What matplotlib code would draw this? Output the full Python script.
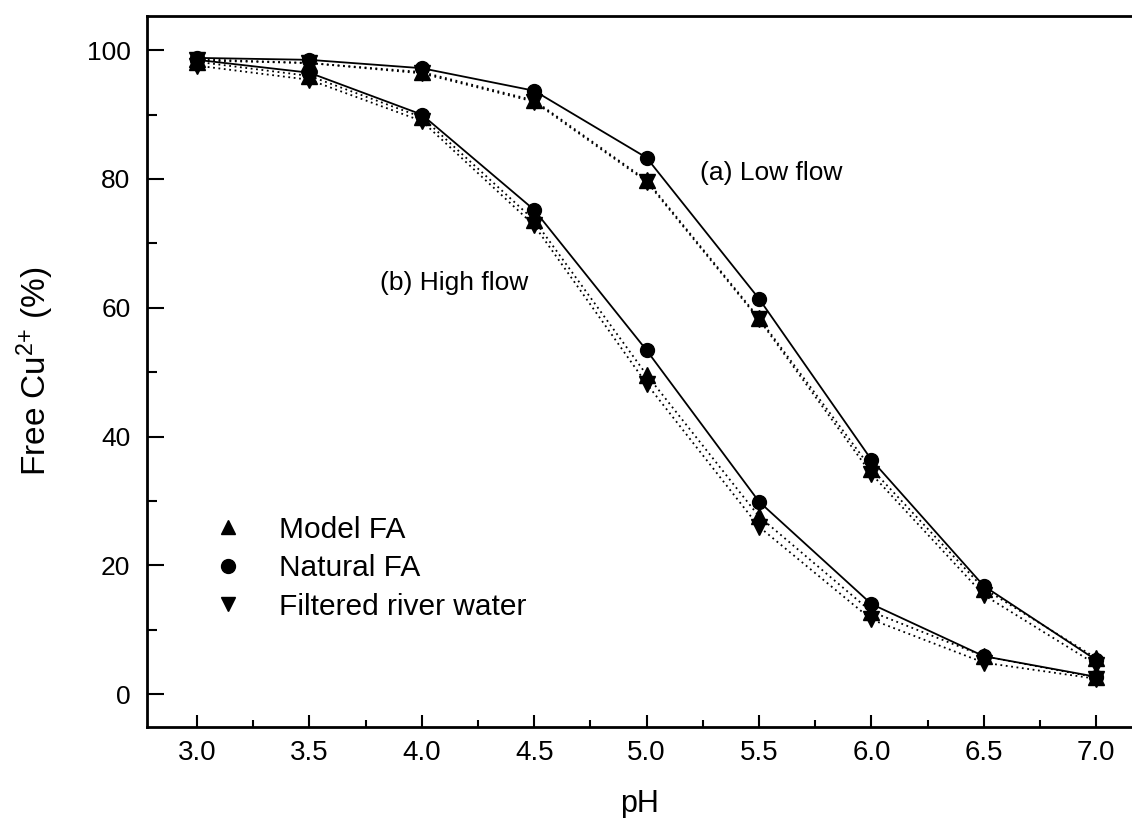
"""
Free Cu2+ vs pH, low flow / high flow
"""

import matplotlib
matplotlib.use("Agg")
import matplotlib.pyplot as plt
from matplotlib.lines import Line2D
from matplotlib.ticker import MultipleLocator

plt.rcParams["font.family"] = ["Liberation Sans", "DejaVu Sans"]
plt.rcParams["mathtext.default"] = "regular"

# ── Datos ─────────────────────────────────────────────────────────────────────
ph = [3.0, 3.5, 4.0, 4.5, 5.0, 5.5, 6.0, 6.5, 7.0]

# (a) Low flow
low_natural = [98.8, 98.5, 97.2, 93.7, 83.3, 61.4, 36.4, 16.8, 5.3]
low_model = [98.6, 98.0, 96.6, 92.2, 79.8, 58.4, 35.0, 16.4, 5.6]
low_filtered = [98.4, 98.0, 96.4, 92.0, 79.6, 58.2, 34.2, 15.4, 4.6]

# (b) High flow
high_natural = [98.5, 96.5, 90.0, 75.2, 53.4, 29.9, 14.0, 5.9, 2.7]
high_model = [98.2, 96.0, 89.6, 73.6, 49.6, 27.6, 12.8, 5.9, 2.6]
high_filtered = [97.6, 95.4, 89.0, 72.8, 48.2, 26.0, 11.6, 4.9, 2.4]

legend_labels = ["Model FA", "Natural FA", "Filtered river water"]

fig = plt.figure(figsize=(11.32, 8.18), dpi=100)
ax = fig.add_axes([0.1299, 0.1112, 0.8701, 0.8692])

ms = 10
for nat, mod, fil in [(low_natural, low_model, low_filtered),
                      (high_natural, high_model, high_filtered)]:
    ax.plot(ph, nat, color="black", lw=1.3, ls="-", zorder=2)
    ax.plot(ph, mod, color="black", lw=1.3, ls=(0, (1, 2)), zorder=2)
    ax.plot(ph, fil, color="black", lw=1.3, ls=(0, (1, 2)), zorder=2)
    ax.plot(ph, nat, "o", color="black", ms=ms, zorder=3)
    ax.plot(ph, mod, "^", color="black", ms=ms + 1, zorder=3)
    ax.plot(ph, fil, "v", color="black", ms=ms + 1, zorder=3)

ax.text(5.237, 81, "(a) Low flow", fontsize=19, va="center", ha="left")
ax.text(3.814, 63.8, "(b) High flow", fontsize=19, va="center", ha="left")

handles = [
    Line2D([], [], ls="none", marker="^", color="black", ms=10),
    Line2D([], [], ls="none", marker="o", color="black", ms=10),
    Line2D([], [], ls="none", marker="v", color="black", ms=10),
]
ax.legend(handles, legend_labels, loc="upper left",
          bbox_to_anchor=(0.04, 0.335), frameon=False, fontsize=21.5,
          handlelength=1.0, handletextpad=1.2, labelspacing=0.35)

ax.set_xlim(2.778, 7.159)
ax.set_ylim(-5.1, 105.3)
ax.xaxis.set_major_locator(MultipleLocator(0.5))
ax.xaxis.set_minor_locator(MultipleLocator(0.25))
ax.yaxis.set_major_locator(MultipleLocator(20))
ax.yaxis.set_minor_locator(MultipleLocator(10))
ax.xaxis.set_major_formatter(plt.FormatStrFormatter("%.1f"))

ax.tick_params(which="both", direction="in", top=False, right=False,
               labelsize=19, width=1.5)
ax.tick_params(axis="x", which="major", length=9, pad=9, labelsize=20)
ax.tick_params(axis="x", which="minor", length=5)
ax.tick_params(axis="y", which="major", length=12, pad=12)
ax.tick_params(axis="y", which="minor", length=7)

for side in ["left", "bottom", "top"]:
    ax.spines[side].set_linewidth(2)
ax.spines["right"].set_visible(False)

ax.set_xlabel("pH", fontsize=22, labelpad=17)
ax.set_ylabel("Free Cu$^{2{+}}$ (%)", fontsize=24, labelpad=22)

fig.savefig("out.png", dpi=100)
